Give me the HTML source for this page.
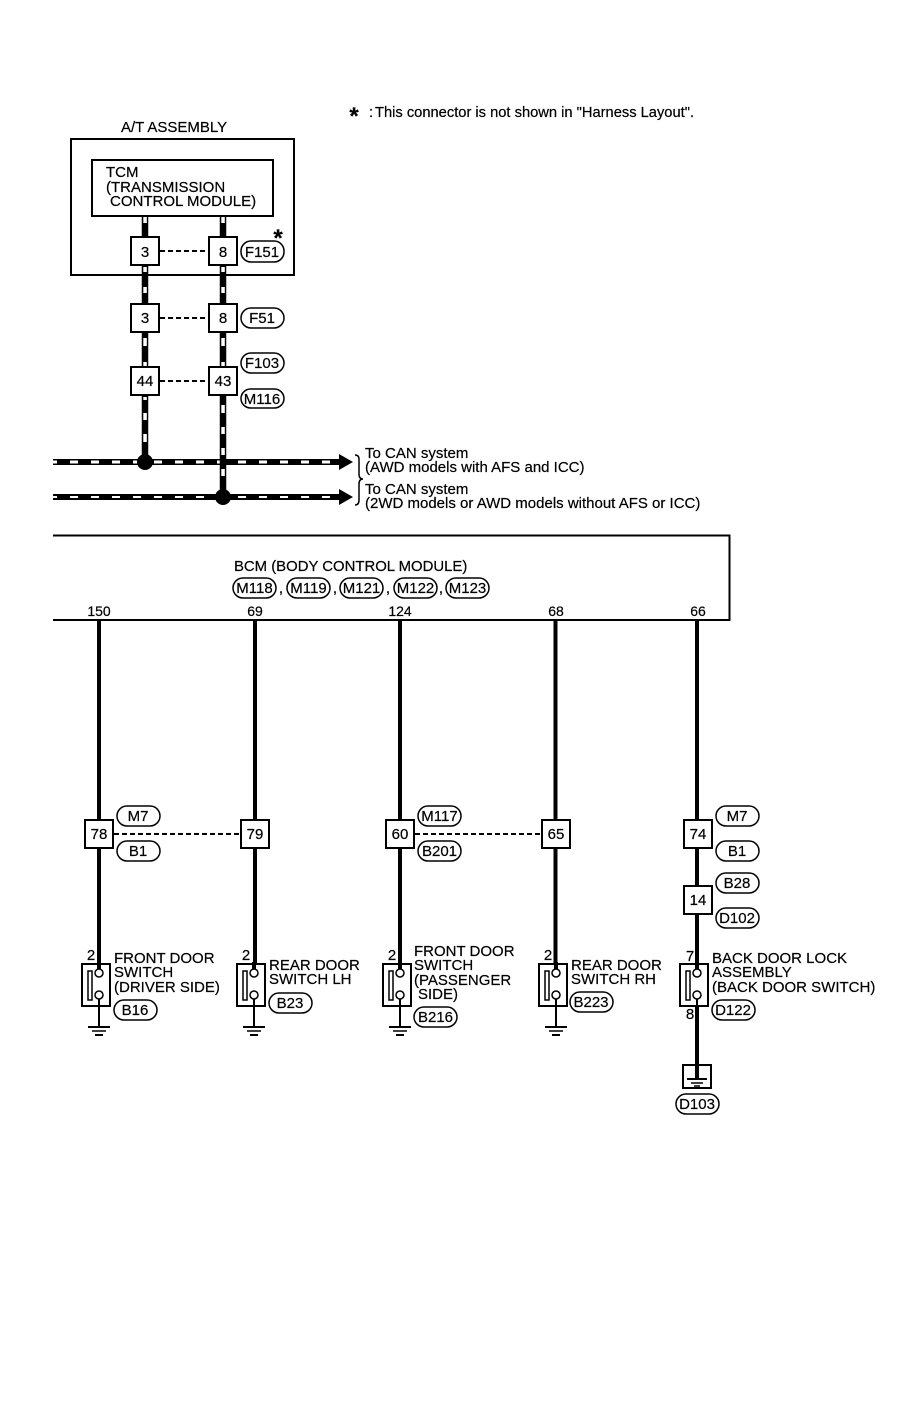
<!DOCTYPE html>
<html><head><meta charset="utf-8"><style>
html,body{margin:0;padding:0;background:#fff}
svg{display:block}
text{font-family:"Liberation Sans",sans-serif;font-size:15px;fill:#000;stroke:#000;stroke-width:.2}
.s{font-size:15px}
</style></head><body>
<svg width="906" height="1408" viewBox="0 0 906 1408" xmlns="http://www.w3.org/2000/svg">
<rect width="906" height="1408" fill="#fff"/>
<text x="354" y="124" text-anchor="middle" style="font-size:24px;font-weight:bold">*</text>
<text x="369" y="117" style="font-size:14.7px">:</text>
<text x="375" y="117" style="font-size:14.7px">This connector is not shown in "Harness Layout".</text>
<text x="121" y="132">A/T ASSEMBLY</text>

<!-- CAN wires -->
<g fill="none" stroke="#000">
<path d="M53 462H342M53 497H342" stroke-width="6"/>
<path d="M53 462H334" stroke="#fff" stroke-width="3" stroke-dasharray="8 13" stroke-dashoffset="4"/>
<path d="M53 497H334" stroke="#fff" stroke-width="2" stroke-dasharray="8 13" stroke-dashoffset="4"/>
<path d="M145 216V462M223 216V497" stroke-width="6.500"/>
</g>
<g fill="#fff">
<rect x="143.300" y="217" width="3.500" height="6"/><rect x="143.300" y="267" width="3.500" height="5"/><rect x="143.300" y="287" width="3.500" height="6"/>
<rect x="143.300" y="338" width="3.500" height="8"/><rect x="143.300" y="362" width="3.500" height="4"/><rect x="143.300" y="397" width="3.500" height="3"/>
<rect x="143.300" y="413" width="3.500" height="7"/><rect x="143.300" y="434" width="3.500" height="8"/>
<rect x="221.300" y="217" width="3.500" height="6"/><rect x="221.300" y="267" width="3.500" height="5"/><rect x="221.300" y="287" width="3.500" height="6"/>
<rect x="221.300" y="338" width="3.500" height="8"/><rect x="221.300" y="362" width="3.500" height="4"/><rect x="221.300" y="405" width="3.500" height="8"/>
<rect x="221.300" y="427" width="3.500" height="7"/><rect x="221.300" y="448" width="3.500" height="7"/><rect x="221.300" y="469" width="3.500" height="7"/>
</g>
<rect x="71" y="139" width="223" height="136" fill="none" stroke="#000" stroke-width="2"/>
<rect x="92" y="160" width="181" height="56" fill="#fff" stroke="#000" stroke-width="2"/>
<text x="106" y="177">TCM</text>
<text x="106" y="192">(TRANSMISSION</text>
<text x="110" y="206">CONTROL MODULE)</text>
<circle cx="145" cy="462" r="8"/><circle cx="223" cy="497" r="8"/>
<path d="M339 454L353 462L339 470ZM339 489L353 497L339 505Z"/>
<path d="M355 455Q359 455 359 459V474Q359 479 363 479Q359 479 359 484V500Q359 505 355 505" fill="none" stroke="#000" stroke-width="1.500"/>
<text x="365" y="458">To CAN system</text>
<text x="365" y="472">(AWD models with AFS and ICC)</text>
<text x="365" y="494">To CAN system</text>
<text x="365" y="508">(2WD models or AWD models without AFS or ICC)</text>

<!-- connector boxes top -->
<g fill="#fff" stroke="#000" stroke-width="2">
<rect x="131" y="237" width="28" height="28"/><rect x="209" y="237" width="28" height="28"/>
<rect x="131" y="304" width="28" height="28"/><rect x="209" y="304" width="28" height="28"/>
<rect x="131" y="367" width="28" height="28"/><rect x="209" y="367" width="28" height="28"/>
</g>
<g fill="none" stroke="#000" stroke-width="2" stroke-dasharray="5 3">
<path d="M160 251H208M160 318H208M160 381H208"/>
<path d="M114 834H240M415 834H541"/>
</g>
<g text-anchor="middle">
<text x="145" y="257">3</text><text x="223" y="257">8</text>
<text x="145" y="323">3</text><text x="223" y="323">8</text>
<text x="145" y="386">44</text><text x="223" y="386">43</text>
</g>

<!-- pills -->
<g fill="#fff" stroke="#000" stroke-width="1.500">
<rect x="241" y="241" width="43" height="21" rx="10"/>
<rect x="241" y="308" width="43" height="20" rx="10"/>
<rect x="241" y="353" width="43" height="20" rx="10"/>
<rect x="241" y="389" width="43" height="19" rx="9.500"/>
<rect x="233" y="578" width="43" height="20" rx="10"/>
<rect x="287" y="578" width="43" height="20" rx="10"/>
<rect x="340" y="578" width="43" height="20" rx="10"/>
<rect x="394" y="578" width="43" height="20" rx="10"/>
<rect x="446" y="578" width="43" height="20" rx="10"/>
<rect x="117" y="806" width="43" height="20" rx="10"/>
<rect x="117" y="841" width="43" height="20" rx="10"/>
<rect x="418" y="806" width="43" height="20" rx="10"/>
<rect x="418" y="841" width="43" height="20" rx="10"/>
<rect x="716" y="806" width="43" height="20" rx="10"/>
<rect x="716" y="841" width="43" height="20" rx="10"/>
<rect x="716" y="873" width="43" height="20" rx="10"/>
<rect x="716" y="908" width="43" height="20" rx="10"/>
<rect x="114" y="1000" width="43" height="20" rx="10"/>
<rect x="269" y="993" width="43" height="20" rx="10"/>
<rect x="414" y="1007" width="43" height="20" rx="10"/>
<rect x="570" y="992" width="43" height="20" rx="10"/>
<rect x="712" y="1000" width="43" height="20" rx="10"/>
<rect x="676" y="1094" width="43" height="20" rx="10"/>
</g>
<g text-anchor="middle">
<text x="262" y="257">F151</text><text x="262" y="323">F51</text>
<text x="262" y="368">F103</text><text x="262" y="404">M116</text>
<text x="254.500" y="593">M118</text><text x="308.500" y="593">M119</text><text x="361.500" y="593">M121</text>
<text x="415.500" y="593">M122</text><text x="467.500" y="593">M123</text>
<text x="138" y="821">M7</text><text x="138" y="856">B1</text>
<text x="439.500" y="821">M117</text><text x="439.500" y="856">B201</text>
<text x="737" y="821">M7</text><text x="737" y="856">B1</text>
<text x="737" y="888">B28</text><text x="737" y="923">D102</text>
<text x="135" y="1015">B16</text><text x="290" y="1008">B23</text>
<text x="435.500" y="1022">B216</text><text x="591" y="1007">B223</text>
<text x="733" y="1015">D122</text><text x="697" y="1109">D103</text>
</g>
<text x="278" y="246" text-anchor="middle" style="font-size:24px;font-weight:bold">*</text>
<text x="281" y="593" text-anchor="middle">,</text><text x="335" y="593" text-anchor="middle">,</text>
<text x="388" y="593" text-anchor="middle">,</text><text x="441" y="593" text-anchor="middle">,</text>

<!-- BCM -->
<path d="M53 535.500H729.500V620H53" fill="none" stroke="#000" stroke-width="2"/>
<text x="234" y="571" style="font-size:14.9px">BCM (BODY CONTROL MODULE)</text>
<g text-anchor="middle">
<text x="99" y="616" style="font-size:14px">150</text><text x="255" y="616" style="font-size:14px">69</text><text x="400" y="616" style="font-size:14px">124</text>
<text x="556" y="616" style="font-size:14px">68</text><text x="698" y="616" style="font-size:14px">66</text>
</g>

<!-- BCM wires -->
<g stroke="#000" stroke-width="4" fill="none">
<path d="M99 620V965M255 620V965M400 620V965M555.500 620V965M697 620V965M697 1006V1066"/>
</g>
<g fill="#fff" stroke="#000" stroke-width="2">
<rect x="85" y="820" width="28" height="28"/><rect x="241" y="820" width="28" height="28"/>
<rect x="386" y="820" width="28" height="28"/><rect x="542" y="820" width="28" height="28"/>
<rect x="684" y="820" width="28" height="28"/><rect x="684" y="886" width="28" height="28"/>
</g>
<g text-anchor="middle">
<text x="99" y="839">78</text><text x="255" y="839">79</text><text x="400" y="839">60</text>
<text x="556" y="839">65</text><text x="698" y="839">74</text><text x="698" y="905">14</text>
</g>

<!-- switches -->
<defs>
<g id="sw">
<rect x="-17" y="0" width="28" height="42" fill="#fff" stroke="#000" stroke-width="2"/>
<rect x="-11" y="7" width="4" height="29" fill="#fff" stroke="#000" stroke-width="1.500"/>
<path d="M0 -2V5" stroke="#000" stroke-width="4"/>
<path d="M0 30V42" stroke="#000" stroke-width="2"/>
<circle cx="0" cy="9" r="4" fill="#fff" stroke="#000" stroke-width="1.500"/>
<circle cx="0" cy="31" r="4" fill="#fff" stroke="#000" stroke-width="1.500"/>
</g>
<g id="gnd" stroke="#000" stroke-width="2">
<path d="M0 0V21"/><path d="M-11 21H11"/><path d="M-7 25H7" stroke-width="1.500"/><path d="M-4 29H4"/>
</g>
</defs>
<use href="#sw" x="99" y="964"/><use href="#gnd" x="99" y="1006"/>
<use href="#sw" x="254" y="964"/><use href="#gnd" x="254" y="1006"/>
<use href="#sw" x="400" y="964"/><use href="#gnd" x="400" y="1006"/>
<use href="#sw" x="556" y="964"/><use href="#gnd" x="556" y="1006"/>
<use href="#sw" x="697" y="964"/>
<path d="M697 1006V1066" stroke="#000" stroke-width="4"/>
<g text-anchor="middle">
<text x="91" y="960">2</text><text x="246" y="960">2</text><text x="392" y="960">2</text>
<text x="548" y="960">2</text><text x="690" y="961">7</text><text x="690" y="1019">8</text>
</g>
<g>
<text class="s" x="114" y="963">FRONT DOOR</text><text class="s" x="114" y="977">SWITCH</text><text class="s" x="114" y="992">(DRIVER SIDE)</text>
<text class="s" x="269" y="970">REAR DOOR</text><text class="s" x="269" y="984">SWITCH LH</text>
<text class="s" x="414" y="956">FRONT DOOR</text><text class="s" x="414" y="970">SWITCH</text><text class="s" x="414" y="985">(PASSENGER</text><text class="s" x="418" y="999">SIDE)</text>
<text class="s" x="571" y="970">REAR DOOR</text><text class="s" x="571" y="984">SWITCH RH</text>
<text class="s" x="712" y="963">BACK DOOR LOCK</text><text class="s" x="712" y="977">ASSEMBLY</text><text class="s" x="712" y="992">(BACK DOOR SWITCH)</text>
</g>

<!-- body ground -->
<rect x="683" y="1065" width="28" height="23" fill="#fff" stroke="#000" stroke-width="2"/>
<path d="M697 1064V1078" stroke="#000" stroke-width="4"/>
<path d="M687 1079H707" stroke="#000" stroke-width="2"/>
<path d="M691 1083H703" stroke="#000" stroke-width="1.500"/>
<path d="M694 1086H700" stroke="#000" stroke-width="1.500"/>
</svg>
</body></html>
